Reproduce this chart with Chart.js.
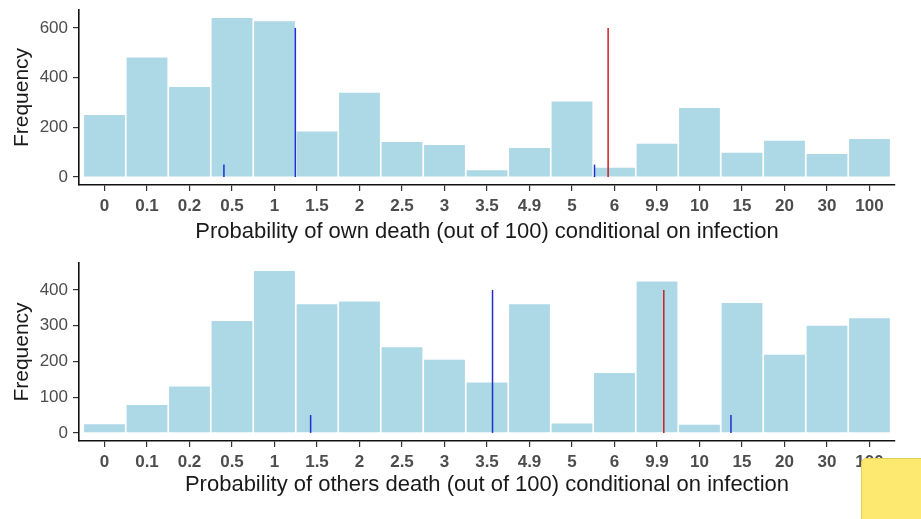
<!DOCTYPE html>
<html>
<head>
<meta charset="utf-8">
<script src="https://cdn.jsdelivr.net/npm/chart.js@4/dist/chart.umd.min.js"></script>
<style>
  body { margin: 0; background: #fff; width: 921px; height: 519px; overflow: hidden; position: relative; }
  canvas { position: absolute; left: 0; }
  #ownChart { top: 0; }
  #othersChart { top: 250px; }
  .note {
    position: absolute; left: 861px; top: 458px; width: 70px; height: 70px;
    background: #fde870; border: 1px solid #e8cf5a; border-radius: 5px 0 0 0;
  }
</style>
</head>
<body>
<canvas id="ownChart" width="921" height="250"></canvas>
<canvas id="othersChart" width="921" height="269"></canvas>
<div class="note"></div>
<script>
// probability buckets shown on both x axes
const buckets = ["0", "0.1", "0.2", "0.5", "1", "1.5", "2", "2.5", "3", "3.5",
  "4.9", "5", "6", "9.9", "10", "15", "20", "30", "100"];

// counts per bucket
const ownCounts = [250, 481, 362, 640, 627, 183, 339, 141, 129, 27,
  117, 304, 37, 134, 278, 98, 146, 93, 153];
const othersCounts = [24, 78, 130, 313, 453, 360, 368, 240, 205, 141,
  360, 26, 168, 424, 23, 364, 219, 300, 321];

// marker segments: [position on bucket axis, height]
const ownBlue = [[2.81, 50], [4.49, 600], [11.53, 50]];
const ownRed = [[11.85, 600]];
const othersBlue = [[4.85, 50], [9.13, 400], [14.74, 50]];
const othersRed = [[13.16, 400]];

const ownYTicks = [0, 200, 400, 600];
const othersYTicks = [0, 100, 200, 300, 400];

const FONT = "'Liberation Sans', Arial, sans-serif";

function segment(pos, height, color) {
  return {
    type: "line",
    data: [{ x: pos, y: 0 }, { x: pos, y: height }],
    borderColor: color,
    borderWidth: 1.5,
    pointRadius: 0,
    order: 1,
  };
}

function buildChart(id, counts, blue, red, yTicks, xTitle, opts) {
  const top = Math.max(...counts);
  const pad = top * 0.05;
  const ctx = document.getElementById(id).getContext("2d");
  return new Chart(ctx, {
    type: "bar",
    data: {
      datasets: [
        {
          type: "bar",
          data: counts.map((v, i) => ({ x: i, y: v })),
          backgroundColor: "#add8e6",
          borderWidth: 0,
          barPercentage: 0.96,
          categoryPercentage: 1,
          order: 2,
        },
        ...blue.map(([p, h]) => segment(p, h, "#1f2fd0")),
        ...red.map(([p, h]) => segment(p, h, "#d01e24")),
      ],
    },
    options: {
      responsive: false,
      animation: false,
      layout: { padding: { top: opts.padTop, right: 26, left: 0, bottom: 0 } },
      plugins: { legend: { display: false }, tooltip: { enabled: false } },
      scales: {
        x: {
          type: "linear",
          offset: false,
          min: -0.6,
          max: buckets.length - 1 + 0.6,
          afterBuildTicks: (axis) => {
            axis.ticks = buckets.map((_, i) => ({ value: i }));
          },
          afterFit: (axis) => {
            axis.height = opts.xHeight;
            axis.paddingLeft = 0;
            axis.paddingRight = 0;
          },
          ticks: {
            autoSkip: false,
            maxRotation: 0,
            padding: 5,
            color: "#4d4d4d",
            font: { family: FONT, size: 17, weight: "bold" },
            callback: (v) => buckets[v],
          },
          grid: { display: true, offset: false, drawOnChartArea: false, tickLength: 6, color: "#333", lineWidth: 1.2 },
          border: { display: true, color: "#111", width: 1.6 },
          title: {
            display: true,
            text: xTitle,
            color: "#1a1a1a",
            font: { family: FONT, size: 22 },
            padding: { top: 0, bottom: opts.xTitlePad },
          },
        },
        y: {
          min: -pad,
          max: top + pad,
          afterBuildTicks: (axis) => {
            axis.ticks = yTicks.map((v) => ({ value: v }));
          },
          afterFit: (axis) => {
            axis.width = 79;
            axis.paddingTop = 0;
            axis.paddingBottom = 0;
          },
          ticks: {
            padding: 5,
            color: "#4d4d4d",
            font: { family: FONT, size: 17 },
          },
          grid: { display: true, drawOnChartArea: false, tickLength: 6, color: "#333", lineWidth: 1.2 },
          border: { display: true, color: "#111", width: 1.6 },
          title: {
            display: true,
            text: "Frequency",
            color: "#1a1a1a",
            font: { family: FONT, size: 21 },
            padding: { top: 10, bottom: 0 },
          },
        },
      },
    },
  });
}

buildChart("ownChart", ownCounts, ownBlue, ownRed, ownYTicks,
  "Probability of own death (out of 100) conditional on infection",
  { padTop: 10, xHeight: 65, xTitlePad: 5 });
buildChart("othersChart", othersCounts, othersBlue, othersRed, othersYTicks,
  "Probability of others death (out of 100) conditional on infection",
  { padTop: 13, xHeight: 78, xTitlePad: 21 });
</script>
</body>
</html>
